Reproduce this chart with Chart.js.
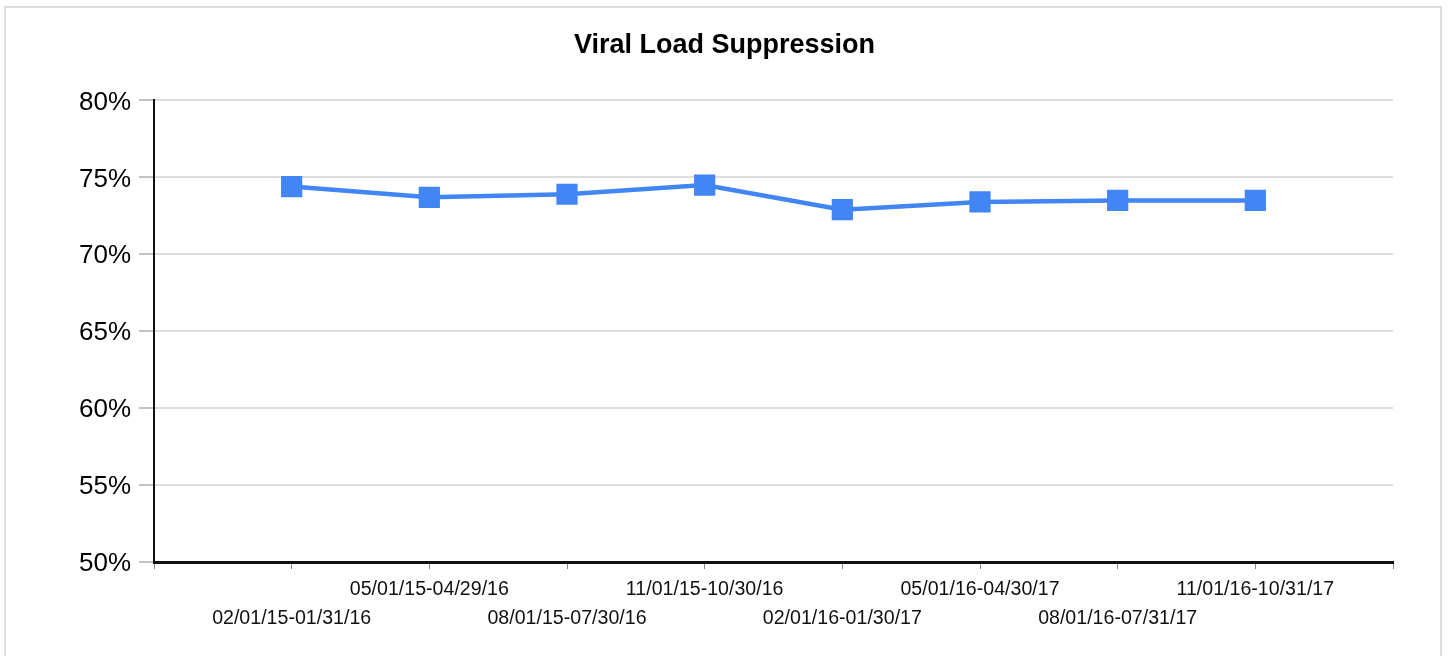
<!DOCTYPE html>
<html>
<head>
<meta charset="utf-8">
<script src="https://cdn.jsdelivr.net/npm/chart.js@4"></script>
<style>
  html, body { margin: 0; padding: 0; background: #fff; }
  #wrap { position: relative; width: 1449px; height: 656px; }
  #frame { position: absolute; left: 4px; top: 6px; width: 1438px; height: 660px; border: 2px solid #dcdcdc; box-sizing: border-box; pointer-events: none; }
  canvas { position: absolute; left: 0; top: 0; }
</style>
</head>
<body>
<div id="wrap">
  <canvas id="c" width="1449" height="656"></canvas>
  <div id="frame"></div>
</div>
<script>
const title = 'Viral Load Suppression';
const periods = [
  '02/01/15-01/31/16',
  '05/01/15-04/29/16',
  '08/01/15-07/30/16',
  '11/01/15-10/30/16',
  '02/01/16-01/30/17',
  '05/01/16-04/30/17',
  '08/01/16-07/31/17',
  '11/01/16-10/31/17'
];
const suppression = [74.4, 73.7, 73.9, 74.5, 72.9, 73.4, 73.5, 73.5];
const yTicks = [50, 55, 60, 65, 70, 75, 80];

const labels = [''].concat(periods, ['']);
const values = [null].concat(suppression, [null]);
const fontFamily = '"Liberation Sans", Arial, sans-serif';

new Chart(document.getElementById('c'), {
  type: 'line',
  data: {
    labels: labels,
    datasets: [{
      data: values,
      borderColor: '#4285F4',
      backgroundColor: '#4285F4',
      borderWidth: 4.5,
      tension: 0,
      pointStyle: 'rect',
      pointRadius: 15,
      pointHoverRadius: 15,
      pointBorderWidth: 0,
      pointBackgroundColor: '#4285F4'
    }]
  },
  options: {
    responsive: false,
    animation: false,
    layout: { padding: { left: 0, right: 0, top: 0, bottom: 0 } },
    plugins: {
      legend: { display: false },
      tooltip: { enabled: false },
      title: {
        display: true,
        text: title,
        color: '#000',
        font: { family: fontFamily, size: 27, weight: 'bold', lineHeight: 1.2 },
        padding: { top: 29, bottom: 39 }
      }
    },
    scales: {
      x: {
        type: 'category',
        offset: false,
        grid: { drawOnChartArea: false, drawTicks: true, tickLength: 7, tickColor: '#888', lineWidth: 1 },
        border: { display: true, color: '#111', width: 3 },
        ticks: {
          autoSkip: false,
          maxRotation: 0,
          minRotation: 0,
          padding: 6,
          color: '#111',
          font: { family: fontFamily, size: 19.6, lineHeight: 1.48 },
          callback: function (v, i) {
            const l = labels[i];
            if (!l) return '';
            return (i % 2 === 1) ? ['', l] : [l];
          }
        },
        afterFit: function (s) { s.height = 94; }
      },
      y: {
        min: 50,
        max: 80,
        afterBuildTicks: function (s) { s.ticks = yTicks.map(v => ({ value: v })); },
        grid: { color: '#dddddd', lineWidth: 2, drawTicks: true, tickLength: 15, tickColor: '#888', tickWidth: 1 },
        border: { display: true, color: '#111', width: 2 },
        ticks: {
          padding: 8,
          labelOffset: 2,
          color: '#000',
          font: { family: fontFamily, size: 26 },
          callback: function (v) { return v + '%'; }
        },
        afterFit: function (s) { s.width = 154; }
      },
      yRight: {
        position: 'right',
        display: true,
        min: 50,
        max: 80,
        grid: { display: false },
        border: { display: false },
        ticks: { display: false },
        afterFit: function (s) { s.width = 56; }
      }
    }
  }
});
</script>
</body>
</html>
